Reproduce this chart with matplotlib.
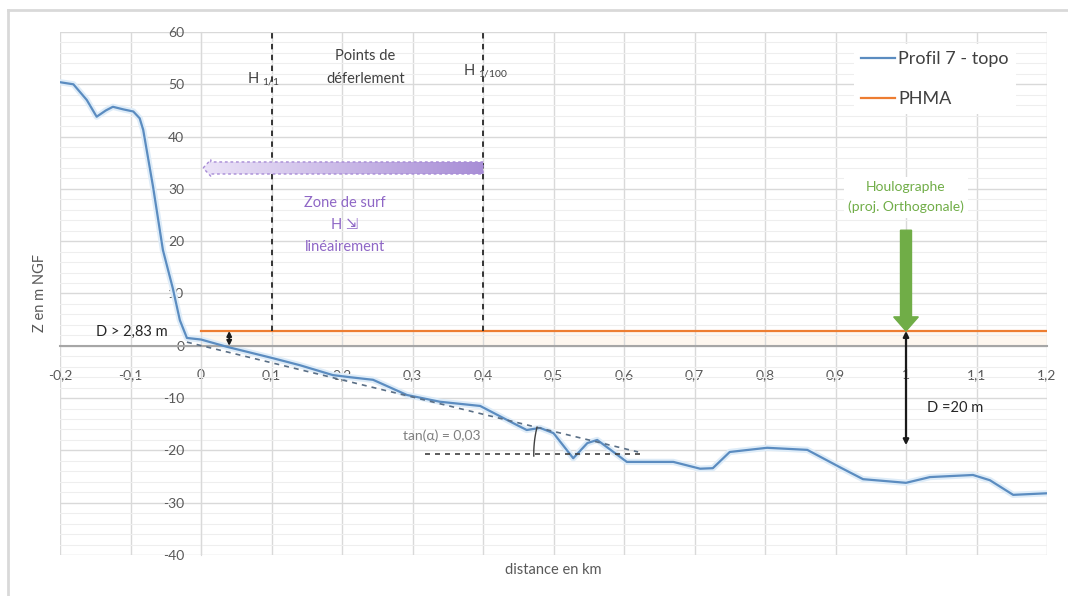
import numpy as np
import matplotlib
matplotlib.use("Agg")
import matplotlib.pyplot as plt
from matplotlib.patches import FancyArrow
from matplotlib.lines import Line2D

plt.rcParams['font.family'] = ['Lato', 'DejaVu Sans']
plt.rcParams['mathtext.default'] = 'regular'
plt.rcParams['axes.unicode_minus'] = False

# Profil 7 - topo (distance en km, Z en m NGF)
prof_x = [-0.2, -0.181, -0.162, -0.148, -0.135, -0.125, -0.11, -0.096, -0.087,
          -0.082, -0.068, -0.054, -0.04, -0.03, -0.02, 0.0, 0.037, 0.1, 0.14,
          0.187, 0.211, 0.244, 0.292, 0.339, 0.396, 0.443, 0.462, 0.481, 0.50,
          0.528, 0.548, 0.562, 0.585, 0.604, 0.67, 0.708, 0.726, 0.75, 0.803,
          0.86, 0.906, 0.939, 1.0, 1.034, 1.095, 1.119, 1.152, 1.2]
prof_z = [50.4, 50.0, 47.0, 43.8, 45.0, 45.7, 45.2, 44.8, 43.5,
          41.3, 30.4, 18.3, 11.0, 4.9, 1.5, 1.2, -0.2, -2.3, -3.7,
          -5.6, -6.0, -6.5, -9.4, -10.7, -11.5, -14.8, -16.1, -15.7, -16.7,
          -21.5, -18.6, -18.0, -20.3, -22.2, -22.2, -23.5, -23.4, -20.3, -19.5,
          -19.9, -23.2, -25.5, -26.2, -25.1, -24.7, -25.7, -28.5, -28.2]

# PHMA
phma_x = [0.0, 1.2]
phma_z = 2.83

# points de deferlement
h11_x = 0.1
h100_x = 0.4

# pente moyenne tan(a) = 0,03
slope_x = [-0.02, 0.62]
slope_z = [0.7, -20.3]
horiz_x = [0.318, 0.627]
horiz_z = -20.7

# houlographe
houlo_x = 1.0
houlo_top = 22.1
fond_houlo = -19.0

x_ticks = [-0.2, -0.1, 0.0, 0.1, 0.2, 0.3, 0.4, 0.5, 0.6, 0.7, 0.8, 0.9, 1.0, 1.1, 1.2]
x_tick_labels = ["-0,2", "-0,1", "0", "0,1", "0,2", "0,3", "0,4", "0,5", "0,6",
                 "0,7", "0,8", "0,9", "1", "1,1", "1,2"]
y_ticks = [-40, -30, -20, -10, 0, 10, 20, 30, 40, 50, 60]

fig = plt.figure(figsize=(10.68, 5.96), dpi=100)
ax = fig.add_axes([60 / 1068, 41 / 596, 987 / 1068, 523 / 596])

ax.set_xlim(-0.2, 1.2)
ax.set_ylim(-40, 60)

# grid
ax.set_xticks(x_ticks)
ax.set_xticklabels(x_tick_labels)
ax.set_yticks(y_ticks)
ax.set_yticks(np.arange(-40, 61, 2), minor=True)
ax.set_axisbelow(True)
ax.grid(True, which='major', color='#d9d9d9', linewidth=1.0)
ax.grid(True, which='minor', axis='y', color='#eeeeee', linewidth=0.8)
ax.tick_params(which='both', length=0, colors='#595959', labelsize=10)
ax.tick_params(axis='x', pad=17)
ax.tick_params(axis='y', pad=12)

for s in ['top', 'right']:
    ax.spines[s].set_visible(False)
ax.spines['left'].set_position(('data', 0))
ax.spines['bottom'].set_position(('data', 0))
ax.spines['left'].set_color('#d9d9d9')
ax.spines['bottom'].set_color('#a6a6a6')
ax.spines['bottom'].set_linewidth(1.5)

# faint glow band under PHMA
ax.fill_between(phma_x, 0, phma_z, color='#fef7ef', zorder=0.4, linewidth=0)

# profile with faint glow
ax.plot(prof_x, prof_z, color='#deecf8', linewidth=4.5, solid_capstyle='round', zorder=2)
ax.plot(prof_x, prof_z, color='#5b8cc0', linewidth=1.6, label='Profil 7 - topo', zorder=3)
ax.plot(phma_x, [phma_z, phma_z], color='#ed7d31', linewidth=1.6, label='PHMA', zorder=3)

# breaking points
ax.plot([h11_x, h11_x], [phma_z, 60], color='#262626', linestyle=(0, (3, 3)), linewidth=1.3, zorder=3)
ax.plot([h100_x, h100_x], [phma_z, 60], color='#262626', linestyle=(0, (3, 3)), linewidth=1.3, zorder=3)
ax.text(h11_x - 0.011, 51.0, "H $_{1/1}$", ha='center', va='center', fontsize=10.5, color='#404040')
ax.text(h100_x + 0.003, 52.5, "H $_{1/100}$", ha='center', va='center', fontsize=10.5, color='#404040')
ax.text(0.233, 53.2, "Points de\ndéferlement", ha='center', va='center', fontsize=10.5,
        color='#404040', linespacing=1.75)

# surf zone arrow with gradient
arrow = FancyArrow(h100_x, 34.0, -h100_x + 0.003, 0, width=2.3, head_width=3.2,
                   head_length=0.011, length_includes_head=True,
                   facecolor='none', edgecolor='#a78bd6', linestyle=(0, (2, 2)),
                   linewidth=1.0, zorder=4)
ax.add_patch(arrow)
grad = np.linspace(0, 1, 256).reshape(1, -1)
cmap = matplotlib.colors.LinearSegmentedColormap.from_list('pur', ['#ece4f8', '#a88ed6'])
im = ax.imshow(grad, extent=[0.0, h100_x, 32.0, 36.0], cmap=cmap, aspect='auto', zorder=3.5)
im.set_clip_path(arrow)
ax.set_xlim(-0.2, 1.2)
ax.set_ylim(-40, 60)
ax.text(0.204, 23.1, "Zone de surf\nH ⇲\nlinéairement", ha='center', va='center', fontsize=10.5,
        color='#8f67c6', linespacing=1.75)

# slope
ax.plot(slope_x, slope_z, color='#5a6f86', linestyle=(0, (3, 3)), linewidth=1.2, zorder=3)
ax.plot(horiz_x, [horiz_z, horiz_z], color='#404040', linestyle=(0, (3, 3)), linewidth=1.2, zorder=3)
t = np.radians(np.linspace(166.3, 181, 20))
ax.plot(0.632 + 0.16 * np.cos(t), horiz_z + 21.6 * np.sin(t), color='#404040', linewidth=1.0, zorder=3)
ax.text(0.342, -17.1, "tan(α) = 0,03", ha='center', va='center', fontsize=10, color='#7f7f7f')

# houlographe
ax.text(houlo_x, 28.4, "Houlographe\n(proj. Orthogonale)", ha='center', va='center', fontsize=10,
        color='#70ad47', linespacing=1.75,
        bbox=dict(facecolor='white', edgecolor='none', pad=3))
ax.add_patch(FancyArrow(houlo_x, houlo_top, 0, phma_z - houlo_top, width=0.0156, head_width=0.035,
                        head_length=2.7, length_includes_head=True, color='#70ad47', zorder=5))

# depth arrows
ax.annotate("", xy=(houlo_x, fond_houlo), xytext=(houlo_x, phma_z),
            arrowprops=dict(arrowstyle='<|-|>', color='#1a1a1a', lw=1.6,
                            mutation_scale=8, shrinkA=0, shrinkB=0), zorder=5)
ax.text(1.03, -11.9, "D =20 m", ha='left', va='center', fontsize=10.5, color='#262626')
ax.annotate("", xy=(0.04, 0.0), xytext=(0.04, phma_z),
            arrowprops=dict(arrowstyle='<|-|>', color='#1a1a1a', lw=1.4,
                            mutation_scale=7, shrinkA=0, shrinkB=0), zorder=5)
ax.text(-0.098, 2.7, "D > 2,83 m", ha='center', va='center', fontsize=10.5, color='#262626', zorder=6)

ax.set_xlabel("distance en km", fontsize=10.5, color='#595959')
ax.set_ylabel("Z en m NGF", fontsize=10.5, color='#595959')
ax.xaxis.set_label_coords(0.5, -0.015)
ax.yaxis.set_label_coords(-0.013, 0.5)

leg = ax.legend(loc='upper left', bbox_to_anchor=(0.795, 0.995), fontsize=13, frameon=True,
                facecolor='white', edgecolor='none', framealpha=1, handlelength=1.9,
                handletextpad=0.15, labelspacing=1.35, borderpad=0.4)
for txt in leg.get_texts():
    txt.set_color('#404040')

# outer frame of the original picture
fig.add_artist(Line2D([8 / 1068, 1], [1 - 10 / 596, 1 - 10 / 596], color='#d9d9d9', linewidth=2))
fig.add_artist(Line2D([8 / 1068, 8 / 1068], [0, 1 - 10 / 596], color='#d9d9d9', linewidth=2))

fig.savefig("out.png", dpi=100)
